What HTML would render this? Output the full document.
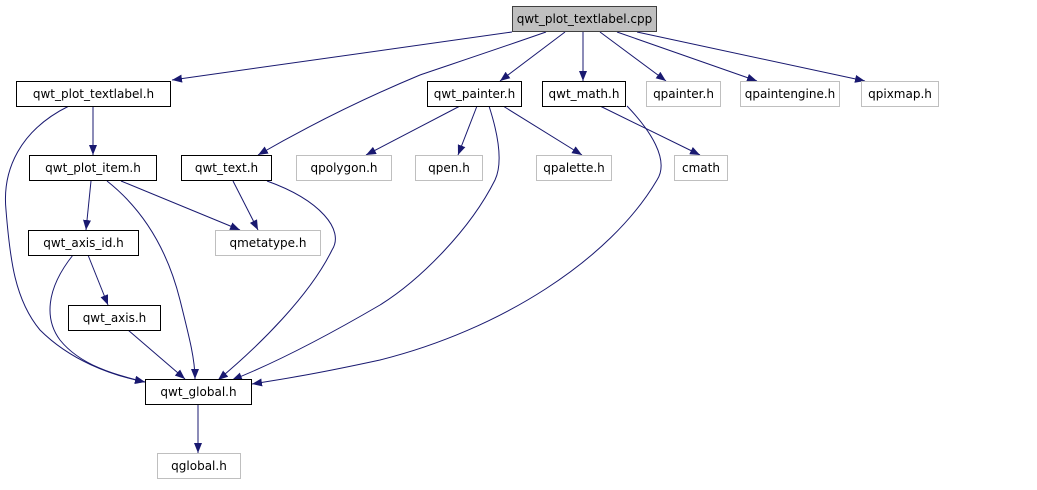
<!DOCTYPE html>
<html><head><meta charset="utf-8"><style>
html,body{margin:0;padding:0;background:#fff;}
svg text{font-family:"DejaVu Sans","Liberation Sans",sans-serif;font-size:12px;fill:#000;}
</style></head><body>
<svg width="1037" height="485" viewBox="0 0 1037 485" xmlns="http://www.w3.org/2000/svg">
<defs><marker id="a" markerWidth="10" markerHeight="8" refX="10" refY="4" orient="auto" markerUnits="userSpaceOnUse"><path d="M0,0 L10,4 L0,8 z" fill="#191970"/></marker></defs>
<g fill="none" stroke="#191970" stroke-width="1" marker-end="url(#a)">
<path d="M512,32 L172,80"/>
<path d="M546,32 C480,55 440,68 420,75 C360,100 310,125 258,155"/>
<path d="M565,32 L500,81"/>
<path d="M583,32 L583,81"/>
<path d="M600,32 L666,81"/>
<path d="M617,32 L757,81"/>
<path d="M637,32 L865,81"/>
<path d="M93,106 L93,155"/>
<path d="M69,106 C20,130 2,170 6,210 C10,260 15,300 40,330 C70,360 110,375 145,382"/>
<path d="M91,181 L86,230"/>
<path d="M121,181 L240,230"/>
<path d="M107,181 C150,215 170,260 180,300 C190,340 195,360 195,379"/>
<path d="M233,181 L258,230"/>
<path d="M267,181 C320,200 345,230 332,250 C310,295 260,345 218,380"/>
<path d="M88,255 L108,305"/>
<path d="M73,255 C45,290 45,320 60,340 C80,365 115,375 145,382"/>
<path d="M128,330 L185,379"/>
<path d="M460,106 L366,155"/>
<path d="M477,106 L458,155"/>
<path d="M503,106 L582,155"/>
<path d="M489,106 C500,140 502,165 495,180 C470,230 420,280 380,305 C320,340 270,365 232,380"/>
<path d="M627,106 C650,130 670,160 657,180 C610,260 500,330 380,360 C320,373 290,378 252,384"/>
<path d="M600,106 L700,155"/>
<path d="M198,404 L198,453"/>
</g>
<g stroke-width="1">
<rect x="512.5" y="6.5" width="144" height="25" fill="#bfbfbf" stroke="#404040"/>
<rect x="16.5" y="81.5" width="154" height="25" fill="#fff" stroke="#000"/>
<rect x="427.5" y="81.5" width="94" height="25" fill="#fff" stroke="#000"/>
<rect x="542.5" y="81.5" width="83" height="25" fill="#fff" stroke="#000"/>
<rect x="646.5" y="81.5" width="74" height="25" fill="#fff" stroke="#bfbfbf"/>
<rect x="740.5" y="81.5" width="99" height="25" fill="#fff" stroke="#bfbfbf"/>
<rect x="861.5" y="81.5" width="77" height="25" fill="#fff" stroke="#bfbfbf"/>
<rect x="29.5" y="155.5" width="127" height="25" fill="#fff" stroke="#000"/>
<rect x="181.5" y="155.5" width="90" height="25" fill="#fff" stroke="#000"/>
<rect x="296.5" y="155.5" width="95" height="25" fill="#fff" stroke="#bfbfbf"/>
<rect x="415.5" y="155.5" width="67" height="25" fill="#fff" stroke="#bfbfbf"/>
<rect x="536.5" y="155.5" width="75" height="25" fill="#fff" stroke="#bfbfbf"/>
<rect x="674.5" y="155.5" width="53" height="25" fill="#fff" stroke="#bfbfbf"/>
<rect x="28.5" y="230.5" width="110" height="25" fill="#fff" stroke="#000"/>
<rect x="215.5" y="230.5" width="105" height="25" fill="#fff" stroke="#bfbfbf"/>
<rect x="68.5" y="305.5" width="92" height="25" fill="#fff" stroke="#000"/>
<rect x="145.5" y="379.5" width="106" height="25" fill="#fff" stroke="#000"/>
<rect x="157.5" y="453.5" width="83" height="25" fill="#fff" stroke="#bfbfbf"/>
</g>
<g text-anchor="middle">
<text x="584.5" y="23">qwt_plot_textlabel.cpp</text>
<text x="93.5" y="98">qwt_plot_textlabel.h</text>
<text x="474.5" y="98">qwt_painter.h</text>
<text x="584" y="98">qwt_math.h</text>
<text x="683.5" y="98">qpainter.h</text>
<text x="790" y="98">qpaintengine.h</text>
<text x="900" y="98">qpixmap.h</text>
<text x="93" y="172">qwt_plot_item.h</text>
<text x="226.5" y="172">qwt_text.h</text>
<text x="344" y="172">qpolygon.h</text>
<text x="449" y="172">qpen.h</text>
<text x="574" y="172">qpalette.h</text>
<text x="701" y="172">cmath</text>
<text x="83.5" y="247">qwt_axis_id.h</text>
<text x="268" y="247">qmetatype.h</text>
<text x="114.5" y="322">qwt_axis.h</text>
<text x="198.5" y="396">qwt_global.h</text>
<text x="199" y="470">qglobal.h</text>
</g>
</svg>
</body></html>
